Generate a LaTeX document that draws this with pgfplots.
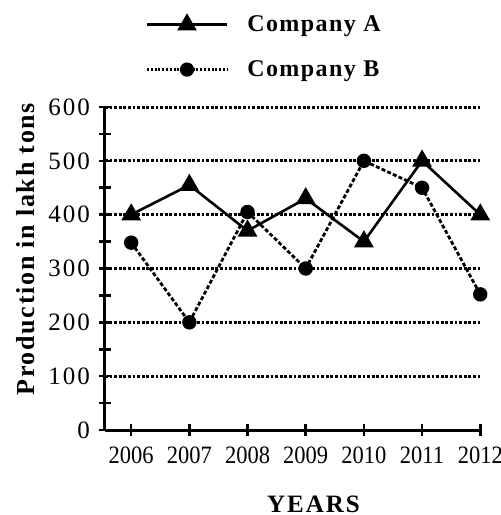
\documentclass[border=0pt]{standalone}
\usepackage{pgfplots}
\pgfplotsset{compat=1.18}
\usepackage{fontspec}
\setmainfont{Liberation Serif}
\newfontfamily\spaced[LetterSpace=6.5]{Liberation Serif}
\newfontfamily\legfont[LetterSpace=6]{Liberation Serif}
\newfontfamily\narrow[FakeStretch=0.9]{Liberation Serif}
\newfontfamily\ytickfont[LetterSpace=8]{Liberation Serif}
\begin{document}
\begin{tikzpicture}
\useasboundingbox (0,0) rectangle (250.5pt,257.5pt);
\begin{axis}[
  at={(52.5pt,42.5pt)}, anchor=south west,
  scale only axis, width=188.5pt, height=161.5pt,
  xmin=-0.45, xmax=6.03, ymin=0, ymax=600,
  axis x line=bottom, axis y line=left,
  axis line style={line width=1.5pt, -},
  xtick={0,...,6},
  xticklabels={2006,2007,2008,2009,2010,2011,2012},
  ytick={0,100,...,600},
  minor ytick={50,150,...,550},
  tick align=center,
  major tick length=6pt, minor tick length=6pt,
  every tick/.style={line width=1.3pt, black},
  ymajorgrids,
  major grid style={line width=1.5pt, dash pattern=on 1.4pt off 0.9pt, black},
  /pgf/number format/assume math mode=true,
  yticklabel style={font=\fontsize{12.5}{14}\selectfont\ytickfont, xshift=-1pt},
  xticklabel style={font=\fontsize{12.5}{14}\selectfont\narrow, yshift=-2pt},
  ylabel={\spaced\bfseries Production in lakh tons},
  ylabel style={font=\fontsize{13}{15}\selectfont, at={(ticklabel cs:0.56)}, yshift=0pt},
  xlabel={\bfseries\addfontfeatures{LetterSpace=8}YEARS},
  xlabel style={font=\fontsize{12.5}{14}\selectfont, at={(ticklabel cs:0.553)}, inner sep=0pt, yshift=-12.3pt},
  legend style={at={(0.091,1.31)}, anchor=north west, draw=none, fill=none,
    font=\fontsize{12}{13}\selectfont\legfont\bfseries, row sep=9pt,
    /tikz/every odd column/.append style={column sep=7.5pt}},
  legend cell align=left,
  clip=false,
]
\addplot[black, line width=1.3pt, mark=triangle*, mark size=4.4pt,
  legend image code/.code={\draw[black, line width=1.3pt, mark=triangle*, mark size=4.4pt, mark repeat=2, mark phase=2] plot coordinates {(0pt,0pt) (20pt,0pt) (40pt,0pt)};}]
  coordinates {(0,400) (1,455) (2,370) (3,430) (4,350) (5,500) (6,400)};
\addlegendentry{Company A}
\addplot[black, line width=1.4pt, dash pattern=on 2pt off 1.1pt, mark=*, mark size=2.9pt, mark options={solid},
  legend image code/.code={\draw[black, line width=1.3pt, dash pattern=on 1pt off 0.9pt, mark=*, mark size=2.9pt, mark options={solid}, mark repeat=2, mark phase=2] plot coordinates {(0pt,0pt) (20pt,0pt) (40pt,0pt)};}]
  coordinates {(0,348) (1,200) (2,405) (3,300) (4,500) (5,450) (6,252)};
\addlegendentry{Company B}
\end{axis}
\end{tikzpicture}
\end{document}
